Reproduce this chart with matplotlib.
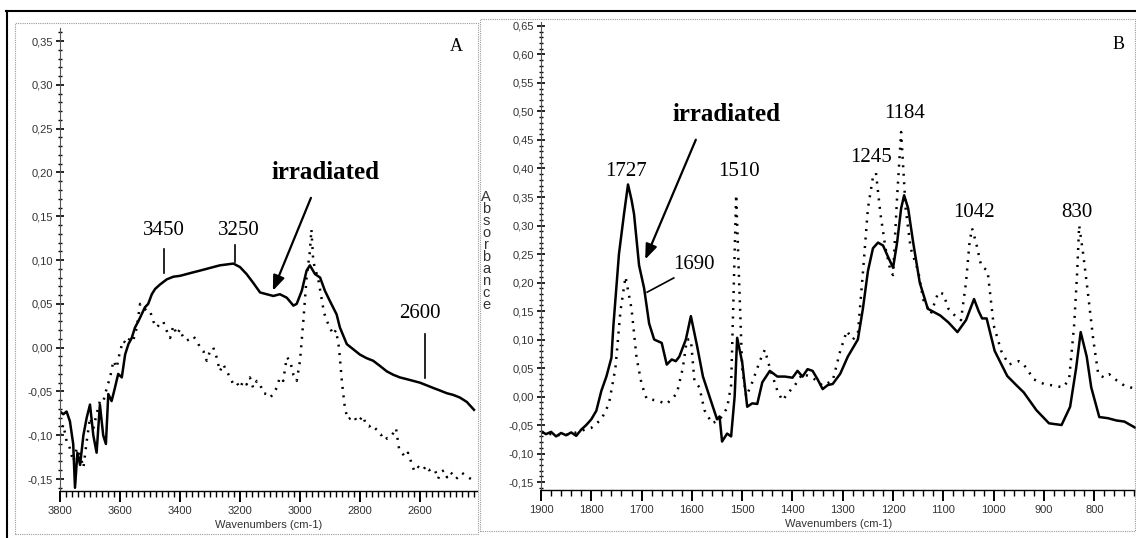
import matplotlib
matplotlib.use("Agg")
import matplotlib.pyplot as plt
from matplotlib.ticker import MultipleLocator, FuncFormatter
from matplotlib.lines import Line2D
from matplotlib.patches import Rectangle

# Panel A: 3800-2400 cm-1 region (wavenumber, absorbance)
irr_A = [(3800, -0.073), (3789, -0.076), (3778, -0.073), (3767, -0.084), (3756, -0.110),
         (3750, -0.160), (3742, -0.120), (3733, -0.134), (3722, -0.100), (3711, -0.080),
         (3700, -0.065), (3689, -0.100), (3678, -0.120), (3667, -0.065), (3656, -0.100),
         (3647, -0.110), (3639, -0.053), (3628, -0.061), (3617, -0.046), (3606, -0.030),
         (3594, -0.034), (3583, -0.008), (3572, 0.004), (3561, 0.011), (3550, 0.023),
         (3539, 0.030), (3528, 0.038), (3517, 0.046), (3506, 0.050), (3494, 0.061),
         (3483, 0.067), (3467, 0.072), (3444, 0.078), (3422, 0.081), (3400, 0.082),
         (3378, 0.084), (3356, 0.086), (3333, 0.088), (3311, 0.090), (3289, 0.092),
         (3267, 0.094), (3244, 0.095), (3222, 0.096), (3200, 0.092), (3178, 0.084),
         (3156, 0.074), (3133, 0.063), (3111, 0.061), (3089, 0.059), (3067, 0.061),
         (3044, 0.057), (3022, 0.048), (3011, 0.050), (2994, 0.065), (2978, 0.088),
         (2967, 0.094), (2950, 0.084), (2933, 0.080), (2917, 0.065), (2900, 0.053),
         (2878, 0.038), (2867, 0.023), (2844, 0.004), (2822, -0.002), (2800, -0.008),
         (2778, -0.012), (2756, -0.015), (2733, -0.021), (2711, -0.027), (2689, -0.031),
         (2667, -0.034), (2644, -0.036), (2622, -0.038), (2600, -0.040), (2578, -0.043),
         (2556, -0.046), (2533, -0.049), (2511, -0.052), (2489, -0.054), (2467, -0.057),
         (2444, -0.062), (2420, -0.071)]

ref_A = [(3800, -0.100), (3789, -0.088), (3778, -0.107), (3767, -0.115), (3756, -0.130),
         (3744, -0.115), (3733, -0.122), (3722, -0.137), (3711, -0.107), (3700, -0.080),
         (3689, -0.092), (3678, -0.076), (3667, -0.061), (3656, -0.062), (3644, -0.046),
         (3633, -0.034), (3622, -0.015), (3611, -0.023), (3600, -0.004), (3589, 0.008),
         (3578, 0.004), (3567, 0.011), (3556, 0.008), (3544, 0.023), (3533, 0.050),
         (3522, 0.046), (3511, 0.042), (3500, 0.042), (3489, 0.030), (3478, 0.023),
         (3467, 0.027), (3456, 0.030), (3444, 0.019), (3433, 0.011), (3422, 0.025),
         (3411, 0.015), (3400, 0.021), (3389, 0.011), (3378, 0.008), (3367, 0.010),
         (3356, 0.013), (3344, 0.008), (3333, 0.000), (3322, -0.004), (3311, -0.015),
         (3300, -0.004), (3289, 0.000), (3278, -0.011), (3267, -0.027), (3256, -0.019),
         (3244, -0.027), (3233, -0.034), (3222, -0.042), (3211, -0.040), (3200, -0.046),
         (3189, -0.038), (3178, -0.042), (3167, -0.034), (3156, -0.046), (3144, -0.038),
         (3133, -0.042), (3122, -0.052), (3111, -0.053), (3100, -0.057), (3089, -0.053),
         (3078, -0.046), (3067, -0.034), (3056, -0.038), (3044, -0.011), (3033, -0.015),
         (3022, -0.031), (3011, -0.038), (3000, -0.015), (2989, 0.030), (2978, 0.080),
         (2967, 0.110), (2962, 0.135), (2956, 0.100), (2950, 0.090), (2940, 0.080),
         (2930, 0.060), (2920, 0.040), (2910, 0.030), (2900, 0.023), (2890, 0.015),
         (2880, 0.020), (2870, 0.000), (2860, -0.040), (2850, -0.070), (2840, -0.082),
         (2830, -0.080), (2820, -0.078), (2810, -0.085), (2800, -0.082), (2790, -0.078),
         (2780, -0.088), (2770, -0.090), (2760, -0.088), (2750, -0.092), (2740, -0.095),
         (2730, -0.100), (2720, -0.098), (2710, -0.104), (2700, -0.102), (2690, -0.098),
         (2680, -0.092), (2670, -0.115), (2660, -0.120), (2650, -0.125), (2640, -0.120),
         (2630, -0.130), (2620, -0.140), (2610, -0.135), (2600, -0.138), (2590, -0.140),
         (2580, -0.135), (2570, -0.140), (2560, -0.138), (2550, -0.140), (2540, -0.150),
         (2530, -0.142), (2520, -0.140), (2510, -0.148), (2500, -0.142), (2490, -0.145),
         (2480, -0.150), (2460, -0.143), (2440, -0.148), (2420, -0.152)]

# Panel B: 1900-720 cm-1 region
irr_B = [(1900, -0.061), (1890, -0.066), (1880, -0.062), (1870, -0.070), (1860, -0.064),
         (1850, -0.068), (1840, -0.063), (1830, -0.069), (1820, -0.058), (1810, -0.050),
         (1800, -0.040), (1790, -0.025), (1780, 0.010), (1770, 0.035), (1760, 0.068),
         (1756, 0.125), (1745, 0.250), (1735, 0.320), (1727, 0.372), (1720, 0.345),
         (1715, 0.320), (1705, 0.230), (1695, 0.190), (1685, 0.128), (1675, 0.100),
         (1660, 0.094), (1650, 0.056), (1640, 0.065), (1632, 0.062), (1625, 0.070),
         (1612, 0.100), (1602, 0.141), (1590, 0.090), (1578, 0.035), (1565, 0.000),
         (1550, -0.040), (1545, -0.035), (1540, -0.079), (1530, -0.065), (1522, -0.070),
         (1515, 0.000), (1510, 0.103), (1500, 0.060), (1490, -0.018), (1480, -0.012),
         (1470, -0.013), (1460, 0.025), (1445, 0.045), (1430, 0.035), (1415, 0.035),
         (1400, 0.033), (1390, 0.045), (1380, 0.035), (1370, 0.048), (1360, 0.045),
         (1350, 0.030), (1340, 0.013), (1330, 0.020), (1320, 0.022), (1305, 0.040),
         (1290, 0.070), (1270, 0.100), (1260, 0.154), (1250, 0.220), (1240, 0.260),
         (1230, 0.270), (1220, 0.265), (1210, 0.245), (1200, 0.226), (1192, 0.270),
         (1184, 0.330), (1178, 0.353), (1170, 0.330), (1160, 0.270), (1147, 0.200),
         (1131, 0.154), (1106, 0.142), (1090, 0.130), (1072, 0.113), (1055, 0.134),
         (1039, 0.171), (1030, 0.150), (1023, 0.137), (1014, 0.137), (998, 0.080),
         (973, 0.036), (955, 0.020), (940, 0.007), (915, -0.024), (890, -0.047),
         (865, -0.050), (848, -0.018), (836, 0.050), (827, 0.113), (815, 0.070),
         (806, 0.016), (790, -0.036), (773, -0.038), (756, -0.042), (740, -0.044),
         (716, -0.056)]

ref_B = [(1900, -0.063), (1880, -0.066), (1860, -0.068), (1840, -0.066), (1820, -0.060),
         (1800, -0.055), (1780, -0.040), (1765, -0.013), (1752, 0.050), (1742, 0.150),
         (1732, 0.210), (1720, 0.154), (1710, 0.068), (1700, 0.022), (1690, -0.004),
         (1670, -0.007), (1650, -0.013), (1630, 0.005), (1618, 0.050), (1610, 0.100),
         (1602, 0.100), (1595, 0.028), (1585, 0.016), (1575, -0.024), (1560, -0.047),
         (1545, -0.041), (1530, -0.020), (1522, 0.020), (1518, 0.150), (1512, 0.354),
         (1506, 0.200), (1500, 0.050), (1492, 0.000), (1480, 0.025), (1465, 0.062),
         (1455, 0.082), (1445, 0.050), (1430, 0.010), (1420, -0.007), (1410, 0.005),
         (1395, 0.020), (1380, 0.040), (1360, 0.033), (1340, 0.019), (1320, 0.028),
         (1305, 0.080), (1292, 0.115), (1280, 0.100), (1270, 0.110), (1260, 0.217),
         (1250, 0.330), (1240, 0.385), (1234, 0.392), (1225, 0.320), (1215, 0.260),
         (1205, 0.220), (1200, 0.213), (1192, 0.350), (1184, 0.464), (1175, 0.330),
         (1165, 0.260), (1150, 0.220), (1140, 0.170), (1125, 0.145), (1110, 0.183),
         (1100, 0.180), (1090, 0.154), (1075, 0.140), (1065, 0.134), (1055, 0.200),
         (1048, 0.270), (1043, 0.295), (1035, 0.270), (1025, 0.230), (1012, 0.220),
         (1000, 0.125), (985, 0.080), (970, 0.056), (950, 0.062), (940, 0.056),
         (920, 0.030), (900, 0.022), (880, 0.019), (862, 0.016), (850, 0.030),
         (840, 0.125), (834, 0.217), (830, 0.300), (822, 0.250), (812, 0.177),
         (802, 0.100), (792, 0.039), (780, 0.033), (770, 0.039), (755, 0.028),
         (740, 0.019), (716, 0.013)]

serif = "Liberation Serif"
sans = "Liberation Sans"
comma = FuncFormatter(lambda v, p: f"{v:.2f}".replace(".", ",").replace("-0,00", "0,00"))

fig = plt.figure(figsize=(11.36, 5.38), dpi=100)
W, H = 1136, 538


def px(x, y):
    return x / W, 1 - y / H


# outer frame and dotted panel boxes
fig.add_artist(Line2D([6 / W, 1], [1 - 11 / H] * 2, color="black", lw=1.5))
fig.add_artist(Line2D([7 / W] * 2, [1 - 11 / H, 0], color="black", lw=1.5))
for x0, y0, x1, y1 in [(15, 23, 478, 534), (480, 19, 1135, 531)]:
    fig.add_artist(Rectangle(px(x0, y1), (x1 - x0) / W, (y1 - y0) / H, fill=False,
                             ec="#999999", lw=0.8, ls=(0, (1, 1))))

axA = fig.add_axes([60 / W, 1 - 491 / H, 417 / W, 463 / H])
axB = fig.add_axes([541 / W, 1 - 490 / H, 595 / W, 468 / H])


def style(ax, xmaj):
    for s in ["top", "right"]:
        ax.spines[s].set_visible(False)
    ax.spines["left"].set_color("#555555")
    ax.spines["left"].set_linewidth(0.8)
    ax.spines["bottom"].set_linewidth(1.0)
    ax.patch.set_alpha(0)
    ax.xaxis.set_major_locator(MultipleLocator(xmaj))
    ax.xaxis.set_minor_locator(MultipleLocator(20))
    ax.yaxis.set_major_locator(MultipleLocator(0.05))
    ax.yaxis.set_minor_locator(MultipleLocator(0.01))
    ax.yaxis.set_major_formatter(comma)
    ax.tick_params(axis="y", which="major", direction="inout", length=6, width=1.2, pad=2)
    ax.tick_params(axis="y", which="minor", direction="inout", length=2.5, width=1.0)
    ax.tick_params(axis="x", which="major", direction="out", length=8, width=1.4, pad=3)
    ax.tick_params(axis="x", which="minor", direction="out", length=4.5, width=1.0)
    for lab in ax.get_xticklabels() + ax.get_yticklabels():
        lab.set_fontfamily(sans)
        lab.set_fontsize(8)
        lab.set_color("#333333")
    ax.set_xlabel("Wavenumbers (cm-1)", fontfamily=sans, fontsize=8, color="#333333",
                  labelpad=3)


# ---- Panel A ----
axA.plot([p[0] for p in irr_A], [p[1] for p in irr_A], color="black", lw=1.8)
axA.plot([p[0] for p in ref_A], [p[1] for p in ref_A], color="black", lw=1.8,
         ls=(0, (0.8, 2.6)))
axA.set_xlim(3800, 2410)
axA.set_ylim(-0.1637, 0.365)
style(axA, 200)

txt = dict(fontfamily=serif, fontsize=15, ha="center", va="center")
axA.text(3454, 0.134, "3450", **txt)
axA.text(3205, 0.134, "3250", **txt)
axA.text(2600, 0.0395, "2600", **txt)
axA.plot([3454, 3454], [0.113, 0.085], color="black", lw=1.2)
axA.plot([3215, 3215], [0.117, 0.098], color="black", lw=1.2)
axA.plot([2583, 2583], [0.0155, -0.035], color="black", lw=1.2)
axA.text(2916, 0.2005, "irradiated", fontfamily=serif, fontsize=18, fontweight="bold",
         ha="center", va="center")
axA.annotate("", xy=(3094, 0.062), xytext=(2960, 0.174),
             arrowprops=dict(arrowstyle="-|>,head_length=0.9,head_width=0.35",
                             color="black", lw=1.6))
axA.text(2479, 0.344, "A", fontfamily=serif, fontsize=13, ha="center", va="center")

# ---- Panel B ----
axB.plot([p[0] for p in irr_B], [p[1] for p in irr_B], color="black", lw=1.8)
axB.plot([p[0] for p in ref_B], [p[1] for p in ref_B], color="black", lw=1.8,
         ls=(0, (0.8, 2.6)))
axB.set_xlim(1900, 717)
axB.set_ylim(-0.164, 0.657)
style(axB, 100)

for w, y, s in [(1731, 0.394, "1727"), (1506, 0.394, "1510"), (1596, 0.231, "1690"),
                (1178, 0.497, "1184"), (1244, 0.420, "1245"), (1039, 0.322, "1042"),
                (834, 0.322, "830")]:
    axB.text(w, y, s, **txt)
axB.plot([1636, 1689], [0.208, 0.183], color="black", lw=1.2)
axB.text(1532, 0.494, "irradiated", fontfamily=serif, fontsize=18, fontweight="bold",
         ha="center", va="center")
axB.annotate("", xy=(1695, 0.236), xytext=(1590, 0.455),
             arrowprops=dict(arrowstyle="-|>,head_length=0.9,head_width=0.35",
                             color="black", lw=1.6))
axB.text(751, 0.617, "B", fontfamily=serif, fontsize=13, ha="center", va="center")

fig.text(486 / W, 1 - 251 / H, "\n".join("Absorbance"), fontfamily=sans, fontsize=10.5,
         ha="center", va="center", linespacing=0.82, color="#333333")

fig.savefig("out.png", dpi=100)
